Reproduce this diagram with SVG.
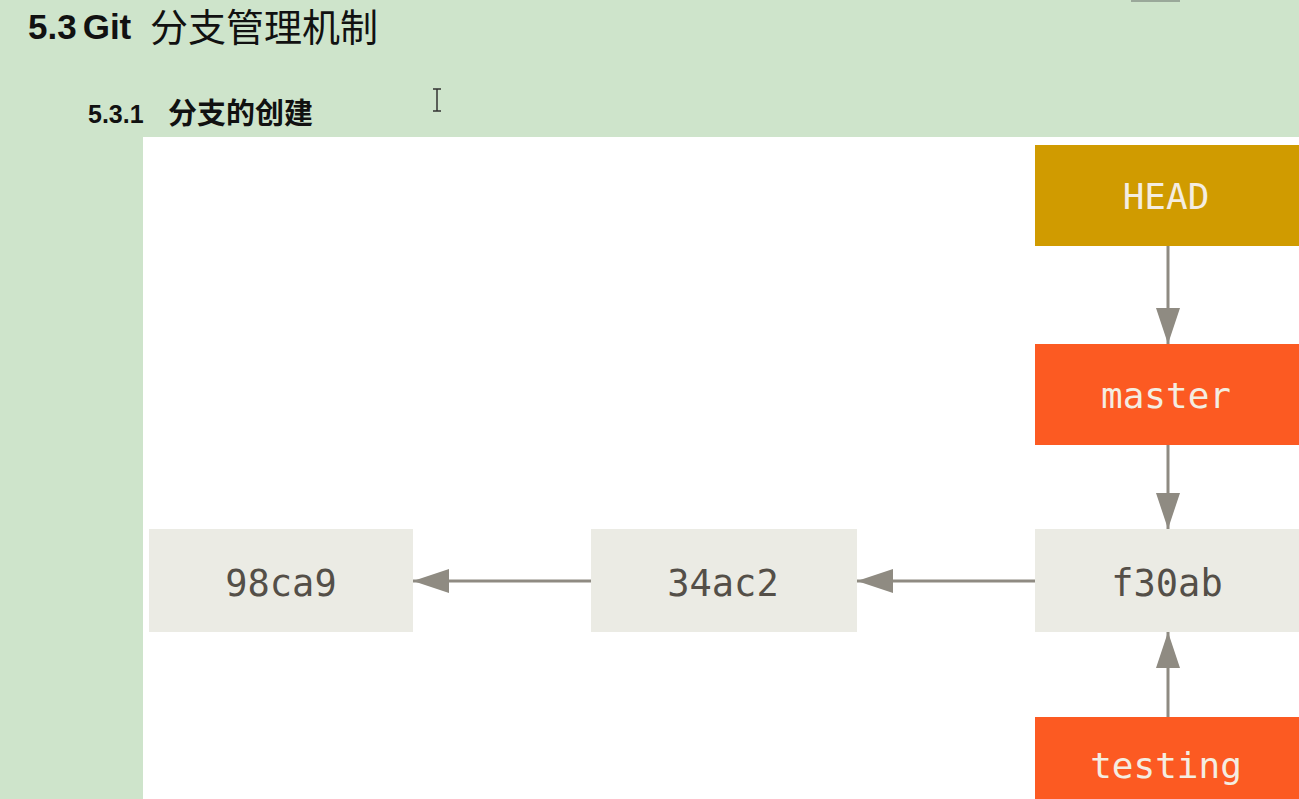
<svg xmlns="http://www.w3.org/2000/svg" width="1299" height="799" viewBox="0 0 1299 799">
  <defs>
    <style>
      .commit { fill: #ebebe4; }
      .ctext { font-family: "DejaVu Sans Mono", "Liberation Mono", monospace; font-size: 37px; fill: #544f48; text-anchor: middle; }
      .ltext { font-family: "DejaVu Sans Mono", "Liberation Mono", monospace; font-size: 36px; fill: #f4ede1; text-anchor: middle; }
      .branch { fill: #fc5a22; }
      .head { fill: #d09b00; }
      .conn { stroke: #8f8b82; stroke-width: 3; fill: none; marker-end: url(#arr); }
    </style>
    <marker id="arr" markerUnits="userSpaceOnUse" markerWidth="36" markerHeight="24" refX="36" refY="12" orient="auto">
      <path d="M0,0 L36,12 L0,24 z" fill="#8f8b82"/>
    </marker>
  </defs>

  <rect x="0" y="0" width="1299" height="799" fill="#cee4cb"/>
  <rect x="143" y="137" width="1156" height="662" fill="#ffffff"/>
  <rect x="1131" y="0" width="49" height="2" fill="#9aa89a"/>

  <g id="title">
    <text x="28" y="39" font-family="'Liberation Sans', 'Noto Sans CJK SC', sans-serif" font-weight="bold" font-size="35" fill="#111111">5.3<tspan dx="6">Git</tspan><tspan x="150" y="41" font-family="'Noto Sans CJK SC', sans-serif" font-weight="normal" font-size="38">分支管理机制</tspan></text>
  </g>
  <g id="subtitle">
    <text x="88" y="123" font-family="'Liberation Sans', 'Noto Sans CJK SC', sans-serif" font-weight="bold" font-size="25" fill="#111111">5.3.1<tspan x="168" y="124" font-family="'Noto Sans CJK SC', sans-serif" font-size="29">分支的创建</tspan></text>
  </g>
  <g id="cursor" stroke="#333333" stroke-width="1.5" fill="none">
    <path d="M433,89 L441,89 M437,89 L437,111 M433,111 L441,111"/>
  </g>

  <g id="connectors">
    <line class="conn" x1="1168" y1="245" x2="1168" y2="344"/>
    <line class="conn" x1="1168" y1="445" x2="1168" y2="529"/>
    <line class="conn" x1="1168" y1="717" x2="1168" y2="632"/>
    <line class="conn" x1="1035" y1="581" x2="857" y2="581"/>
    <line class="conn" x1="591" y1="581" x2="413" y2="581"/>
  </g>

  <g id="node-head">
    <rect class="head" x="1035" y="145" width="264" height="101"/>
    <text class="ltext" x="1166" y="209">HEAD</text>
  </g>
  <g id="node-master">
    <rect class="branch" x="1035" y="344" width="264" height="101"/>
    <text class="ltext" x="1166" y="408">master</text>
  </g>
  <g id="node-f30ab">
    <rect class="commit" x="1035" y="529" width="264" height="103"/>
    <text class="ctext" x="1167" y="596">f30ab</text>
  </g>
  <g id="node-34ac2">
    <rect class="commit" x="591" y="529" width="266" height="103"/>
    <text class="ctext" x="723" y="596">34ac2</text>
  </g>
  <g id="node-98ca9">
    <rect class="commit" x="149" y="529" width="264" height="103"/>
    <text class="ctext" x="281" y="596">98ca9</text>
  </g>
  <g id="node-testing">
    <rect class="branch" x="1035" y="717" width="264" height="82"/>
    <text class="ltext" x="1166" y="778">testing</text>
  </g>
</svg>
